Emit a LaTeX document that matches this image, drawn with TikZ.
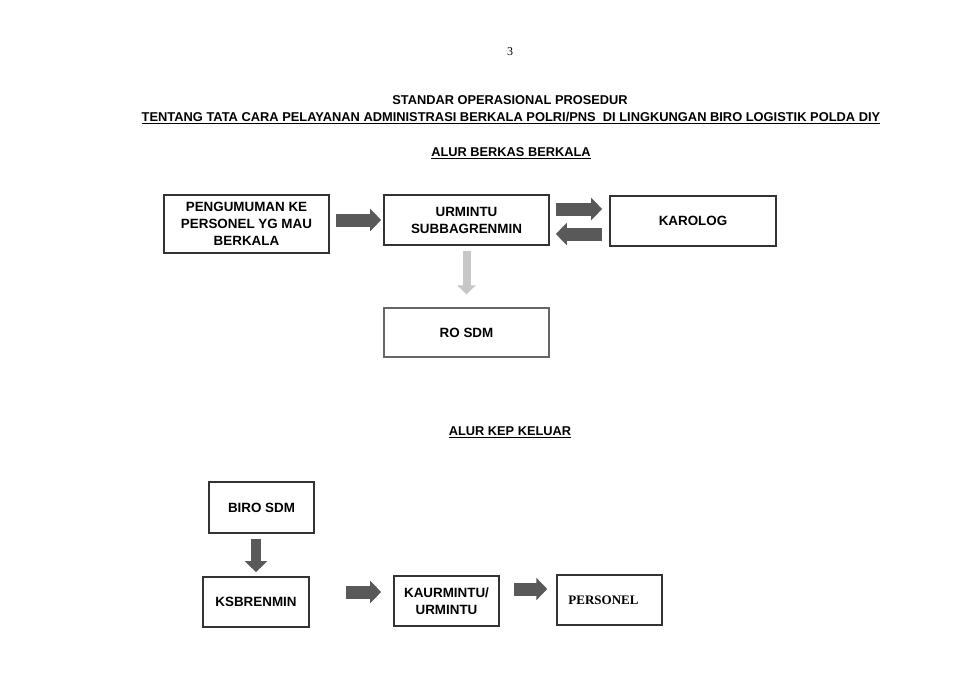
\documentclass[tikz,border=0pt]{standalone}
\usepackage{fontspec}
\setmainfont{Liberation Sans}
\newfontfamily\serifx{Liberation Serif}
\usetikzlibrary{arrows.meta,calc}
\begin{document}
\begin{tikzpicture}[x=1pt,y=-1pt,
  txt/.style={font=\fontsize{12.8}{15}\selectfont\bfseries, inner sep=0},
  box/.style={draw=black!80, line width=1.7pt, align=center, inner sep=0,
    font=\fontsize{13.4}{17}\selectfont\bfseries},
  barrow/.style={line width=13pt, draw=black!65, -{Triangle[length=11pt,width=22pt]}},
  farrow/.style={line width=8pt, draw=black!22, -{Triangle[length=9pt,width=18pt]}}
]
\useasboundingbox[fill=white] (0,0) rectangle (966,690);

\node[inner sep=0, font=\serifx\fontsize{12}{14}\selectfont] (pg) at (510,52) {3};
\node[txt] (t1) at (510,100) {STANDAR OPERASIONAL PROSEDUR};
\node[txt, xscale=1.005] (t2) at (511,118) {\underline{TENTANG TATA CARA PELAYANAN ADMINISTRASI BERKALA POLRI/PNS\ \ DI LINGKUNGAN BIRO LOGISTIK POLDA DIY}};
\node[txt] (t3) at (511,153) {\underline{ALUR BERKAS BERKALA}};
\node[txt] (t4) at (510,432) {\underline{ALUR KEP KELUAR}};

\node[box, minimum width=165pt, minimum height=58pt] (peng) at (246.5,224) {PENGUMUMAN KE\\PERSONEL YG MAU\\BERKALA};
\node[box, minimum width=165pt, minimum height=50pt] (urm) at (466.5,220) {URMINTU\\SUBBAGRENMIN};
\node[box, minimum width=166pt, minimum height=50pt] (karo) at (693,221) {KAROLOG};
\node[box, draw=black!60, line width=1.4pt, minimum width=165pt, minimum height=49pt] (rosdm) at (466.5,332.5) {RO SDM};

\node[box, minimum width=105pt, minimum height=51pt] (biro) at (261.5,507.5) {BIRO SDM};
\node[box, minimum width=106pt, minimum height=50pt] (ksb) at (256,602) {KSBRENMIN};
\node[box, minimum width=105pt, minimum height=50pt] (kaur) at (446.5,601) {KAURMINTU/\\URMINTU};
\node[box, line width=1.5pt, minimum width=105pt, minimum height=50pt, font=\serifx\fontsize{13}{15}\selectfont\bfseries] (pers) at (609.5,600) {\raisebox{-4pt}{PERSONEL}\hspace*{12pt}};

\draw[barrow] ($(peng.east |- urm.west)+(6,0)$) -- ($(urm.west)+(-2,0)$);
\draw[barrow] ($(urm.east)+(6,-11)$) -- ($(karo.west)+(-7,-12)$);
\draw[barrow] ($(karo.west)+(-7,13)$) -- ($(urm.east)+(6,14)$);
\draw[farrow] ($(urm.south)+(0,5)$) -- ($(rosdm.north)+(0,-13)$);

\draw[barrow, line width=10pt] ($(biro.south -| ksb.north)+(0,5)$) -- ($(ksb.north)+(0,-4)$);
\draw[barrow] ($(ksb.east |- 0,592)$)++(36,0) -- ($(kaur.west |- 0,592)+(-12,0)$);
\draw[barrow] ($(kaur.east |- 0,589)+(14,0)$) -- ($(pers.west |- 0,589)+(-9,0)$);
\end{tikzpicture}
\end{document}
